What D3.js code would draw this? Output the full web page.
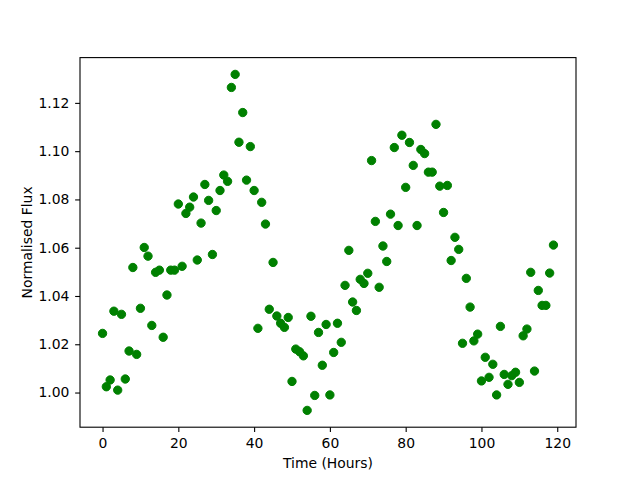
<!DOCTYPE html>
<html>
<head>
<meta charset="utf-8">
<script src="https://cdnjs.cloudflare.com/ajax/libs/d3/7.8.5/d3.min.js"></script>
<style>
body{margin:0;background:#fff;}
text{font-family:"DejaVu Sans",sans-serif;font-size:13.9px;fill:#000;}
</style>
</head>
<body>
<div id="chart"></div>
<script>
var times = [0,1,2,3,4,5,6,7,8,9,10,11,12,13,14,15,16,17,18,19,
             20,21,22,23,24,25,26,27,28,29,30,31,32,33,34,35,36,37,38,39,
             40,41,42,43,44,45,46,47,48,49,50,51,52,53,54,55,56,57,58,59,
             60,61,62,63,64,65,66,67,68,69,70,71,72,73,74,75,76,77,78,79,
             80,81,82,83,84,85,86,87,88,89,90,91,92,93,94,95,96,97,98,99,
             100,101,102,103,104,105,106,107,108,109,110,111,112,113,114,115,116,117,118,119];

var flux = [1.0245,1.0024,1.0052,1.0337,1.0010,1.0324,1.0056,1.0172,1.0518,1.0158,
            1.0349,1.0601,1.0565,1.0278,1.0498,1.0507,1.0229,1.0404,1.0507,1.0507,
            1.0781,1.0523,1.0742,1.0768,1.0810,1.0549,1.0702,1.0862,1.0796,1.0572,
            1.0754,1.0837,1.0901,1.0875,1.1264,1.1318,1.1037,1.1160,1.0880,1.1019,
            1.0837,1.0266,1.0788,1.0698,1.0345,1.0539,1.0317,1.0287,1.0270,1.0311,
            1.0046,1.0180,1.0169,1.0152,0.9926,1.0316,0.9988,1.0249,1.0113,1.0282,
            0.9990,1.0166,1.0287,1.0208,1.0444,1.0589,1.0375,1.0340,1.0469,1.0452,
            1.0494,1.0961,1.0709,1.0436,1.0607,1.0543,1.0739,1.1015,1.0692,1.1066,
            1.0850,1.1036,1.0941,1.0692,1.1007,1.0990,1.0913,1.0913,1.1111,1.0855,
            1.0746,1.0858,1.0547,1.0643,1.0593,1.0204,1.0473,1.0354,1.0214,1.0242,
            1.0048,1.0146,1.0063,1.0117,0.9990,1.0274,1.0075,1.0034,1.0070,1.0084,
            1.0042,1.0235,1.0263,1.0498,1.0089,1.0423,1.0361,1.0361,1.0495,1.0611];

var xTicks = [0,20,40,60,80,100,120];
var yTicks = [1.00,1.02,1.04,1.06,1.08,1.10,1.12];

/**
 * Constructor for the flux scatter chart
 */
function FluxChart(){
    var self = this;
    self.init();
};

/**
 * Sets up the svg and the plotting area
 */
FluxChart.prototype.init = function(){
    var self = this;
    self.margin = {top: 57.6, right: 64, bottom: 52.8, left: 80};
    self.svgWidth = 640;
    self.svgHeight = 480;
    self.width = self.svgWidth - self.margin.left - self.margin.right;
    self.height = self.svgHeight - self.margin.top - self.margin.bottom;

    self.svg = d3.select("#chart").append("svg")
        .attr("width", self.svgWidth)
        .attr("height", self.svgHeight);
    self.plot = self.svg.append("g")
        .attr("transform", "translate(" + self.margin.left + "," + self.margin.top + ")");
};

/**
 * Pads an extent by 5% on both sides, like matplotlib's autoscale
 */
FluxChart.prototype.padded = function(values){
    var ext = d3.extent(values);
    var pad = (ext[1] - ext[0]) * 0.05;
    return [ext[0] - pad, ext[1] + pad];
};

/**
 * Draws axes, points and labels
 */
FluxChart.prototype.update = function(){
    var self = this;
    var tick = 4.86;

    self.xScale = d3.scaleLinear()
        .domain(self.padded(times))
        .range([0, self.width]);
    self.yScale = d3.scaleLinear()
        .domain(self.padded(flux))
        .range([self.height, 0]);

    var xAxis = d3.axisBottom(self.xScale)
        .tickValues(xTicks)
        .tickSize(tick)
        .tickSizeOuter(0)
        .tickPadding(6)
        .tickFormat(d3.format("d"));
    var yAxis = d3.axisLeft(self.yScale)
        .tickValues(yTicks)
        .tickSize(tick)
        .tickSizeOuter(0)
        .tickPadding(5.8)
        .tickFormat(d3.format(".2f"));

    var gx = self.plot.append("g")
        .attr("transform", "translate(0," + self.height + ")")
        .call(xAxis);
    var gy = self.plot.append("g").call(yAxis);

    [gx, gy].forEach(function(g){
        g.select(".domain").remove();
        g.selectAll("line").attr("stroke", "#000").attr("stroke-width", 1.1);
        g.selectAll("text")
            .attr("font-family", "DejaVu Sans")
            .attr("font-size", 13.9)
            .attr("fill", "#000");
    });

    self.plot.selectAll("circle")
        .data(flux)
        .enter()
        .append("circle")
        .attr("cx", function(d, i){ return self.xScale(times[i]); })
        .attr("cy", function(d){ return self.yScale(d); })
        .attr("r", 4.17)
        .attr("fill", "#008000")
        .attr("stroke", "#008000")
        .attr("stroke-width", 1);

    // frame
    self.plot.append("rect")
        .attr("x", 0)
        .attr("y", 0)
        .attr("width", self.width)
        .attr("height", self.height)
        .attr("fill", "none")
        .attr("stroke", "#000")
        .attr("stroke-width", 1.1);

    self.svg.append("text")
        .attr("x", self.margin.left + self.width / 2)
        .attr("y", 468)
        .attr("text-anchor", "middle")
        .text("Time (Hours)");

    self.svg.append("text")
        .attr("transform", "translate(31.5," + (self.margin.top + self.height / 2) + ") rotate(-90)")
        .attr("text-anchor", "middle")
        .text("Normalised Flux");
};

var chart = new FluxChart();
chart.update();
</script>
</body>
</html>
